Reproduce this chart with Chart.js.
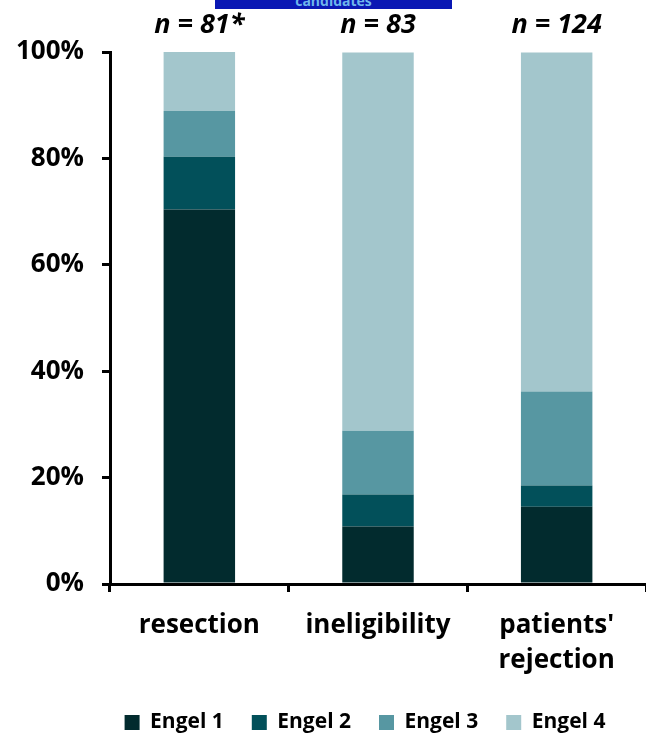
<!DOCTYPE html>
<html>
<head>
<meta charset="utf-8">
<script src="https://cdn.jsdelivr.net/npm/chart.js@4/dist/chart.umd.min.js"></script>
<style>
  html, body { margin: 0; padding: 0; background: #ffffff; }
  #wrap { position: relative; width: 646px; height: 735px; }
  #banner { position: absolute; left: 215px; top: 0; width: 237px; height: 9px; background: #0a18b4; overflow: hidden; }
  #banner span { position: absolute; left: 0; width: 100%; text-align: center; top: -9px; font: bold 14px 'Open Sans', sans-serif; color: #6fb6ec; }
</style>
</head>
<body>
<div id="wrap">
  <canvas id="c" width="646" height="735"></canvas>
  <div id="banner"><span>candidates</span></div>
</div>
<script>
const categories = [["resection"], ["ineligibility"], ["patients'", "rejection"]];
const groupSizes = ["n = 81*", "n = 83", "n = 124"];
const seriesNames = ["Engel 1", "Engel 2", "Engel 3", "Engel 4"];
const engel1 = [70.4, 10.8, 14.5];
const engel2 = [9.9, 6.0, 4.0];
const engel3 = [8.6, 12.0, 17.7];
const engel4 = [11.1, 71.1, 63.7];
const yTicks = [0, 20, 40, 60, 80, 100];
const colors = ["#022b2e", "#02505a", "#5797a2", "#a3c6cc"];

const FONT = "'Open Sans', sans-serif";

const nLabels = {
  id: 'nLabels',
  afterDraw(chart) {
    const ctx = chart.ctx;
    const xs = chart.scales.x;
    ctx.save();
    ctx.font = "italic bold 27px " + FONT;
    ctx.fillStyle = "#000";
    ctx.textAlign = "center";
    ctx.textBaseline = "middle";
    groupSizes.forEach((t, i) => {
      ctx.fillText(t, xs.getPixelForValue(i), chart.chartArea.top - 27);
    });
    ctx.restore();
  }
};

const legendShift = {
  id: 'legendShift',
  afterLayout(chart) {
    const l = chart.legend;
    if (l) { l.left += 42; l.right += 42; l.top += 8; l.bottom += 8; }
  }
};

new Chart(document.getElementById('c'), {
  type: 'bar',
  data: {
    labels: categories,
    datasets: [engel1, engel2, engel3, engel4].map((d, i) => ({
      label: seriesNames[i],
      data: d,
      backgroundColor: colors[i],
      borderWidth: 0,
      categoryPercentage: 1.0,
      barPercentage: 0.4
    }))
  },
  options: {
    responsive: false,
    animation: false,
    devicePixelRatio: 1,
    layout: { padding: { top: 52, right: 0, left: 0, bottom: 0 } },
    plugins: {
      legend: {
        position: 'bottom',
        labels: {
          boxWidth: 15, boxHeight: 15, padding: 28,
          color: '#000',
          font: { family: FONT, size: 21, weight: 'bold' }
        }
      },
      tooltip: { enabled: false }
    },
    scales: {
      x: {
        stacked: true,
        offset: true,
        grid: { display: true, drawOnChartArea: false, offset: true, color: '#000', lineWidth: 3, tickLength: 8 },
        border: { display: true, color: '#000', width: 3 },
        ticks: { color: '#000', font: { family: FONT, size: 26, weight: 'bold', lineHeight: 1.35 }, padding: 16, maxRotation: 0 },
        afterFit(s) { s.height = 92; }
      },
      y: {
        stacked: true,
        min: 0, max: 100,
        afterBuildTicks(s) { s.ticks = yTicks.map(v => ({ value: v })); },
        grid: { display: true, drawOnChartArea: false, color: '#000', lineWidth: 3, tickLength: 8 },
        border: { display: true, color: '#000', width: 3 },
        ticks: { color: '#000', font: { family: FONT, size: 26, weight: 'bold' }, padding: 18, callback: v => v + '%' },
        afterFit(s) { s.width = 110; }
      }
    }
  },
  plugins: [nLabels, legendShift]
});
</script>
</body>
</html>
